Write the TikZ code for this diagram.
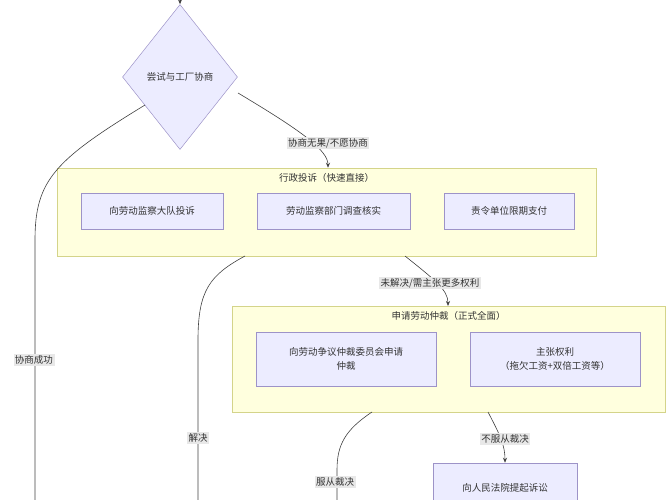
\documentclass[tikz,border=0pt]{standalone}
\usepackage{fontspec}
\newfontfamily\cjk{Noto Sans CJK SC}
\usetikzlibrary{shapes.geometric,arrows.meta}
\definecolor{nfill}{HTML}{ECECFF}
\definecolor{ndraw}{HTML}{9D93C8}
\definecolor{cfill}{HTML}{FFFFDE}
\definecolor{cdraw}{HTML}{D4D48A}
\definecolor{lbg}{HTML}{E8E8E8}
\begin{document}
\begin{tikzpicture}[x=1pt,y=-1pt,font=\cjk\fontsize{9.5}{14}\selectfont,text=black!80,
  box/.style={draw=ndraw,fill=nfill,line width=0.5pt,align=center,inner sep=0pt},
  clus/.style={draw=cdraw,fill=cfill,line width=0.5pt,inner sep=0pt},
  lab/.style={fill=lbg,inner sep=1.5pt},
  edge/.style={draw=black!75,line width=0.6pt},
  arr/.style={edge,-{Stealth[length=5pt,width=4pt]}}]
\useasboundingbox (0,0) rectangle (667,500);
% diamond
\node[box,diamond,minimum width=115pt,minimum height=145pt] (d) at (180,77) {尝试与工厂协商};
\coordinate (dtop) at (180,-2);
\draw[arr] (dtop) -- (d.north);
% cluster 1
\node[clus,minimum width=539pt,minimum height=88pt] (c1) at (326.5,212) {};
\node (c1t) at (326.5,178) {行政投诉（快速直接）};
\node[box,minimum width=142pt,minimum height=36pt] (a1) at (152,211) {向劳动监察大队投诉};
\node[box,minimum width=153pt,minimum height=36pt] (a2) at (333.5,211) {劳动监察部门调查核实};
\node[box,minimum width=130pt,minimum height=36pt] (a3) at (509,211) {责令单位限期支付};
% cluster 2
\node[clus,minimum width=433pt,minimum height=106pt] (c2) at (448.5,359) {};
\node (c2t) at (448.5,316) {申请劳动仲裁（正式全面）};
\node[box,minimum width=180pt,minimum height=54pt] (b1) at (346,359) {向劳动争议仲裁委员会申请\\仲裁};
\node[box,minimum width=170pt,minimum height=54pt] (b2) at (555,359) {主张权利\\（拖欠工资+双倍工资等）};
% court
\node[box,minimum width=144pt,minimum height=50pt] (ct) at (505,488) {向人民法院提起诉讼};
% edges
\coordinate (ds) at (145,105);
\coordinate (e1) at (35,500);
\draw[edge] (ds) .. controls (55,160) and (35,180) .. (35,240) -- (e1);
\node[lab] (l1) at (34,360) {协商成功};
\coordinate (dr) at (238,93);
\draw[arr] (dr) .. controls (300,130) and (328,150) .. (c1.north -| 328,0);
\node[lab] (l2) at (328,143) {协商无果/不愿协商};
\coordinate (e2) at (198,500);
\draw[edge] (245,256) .. controls (210,275) and (198,290) .. (198,340) -- (e2);
\node[lab] (l3) at (198,438) {解决};
\draw[arr] (405,256) .. controls (435,280) and (448,290) .. (448,306);
\node[lab] (l4) at (430,283) {未解决/需主张更多权利};
\coordinate (e3) at (337,500);
\draw[edge] (372,412) .. controls (345,430) and (337,445) .. (337,470) -- (e3);
\node[lab] (l5) at (335,482) {服从裁决};
\draw[arr] (488,412) .. controls (500,435) and (505,445) .. (ct.north);
\node[lab] (l6) at (505,439) {不服从裁决};
\end{tikzpicture}
\end{document}
